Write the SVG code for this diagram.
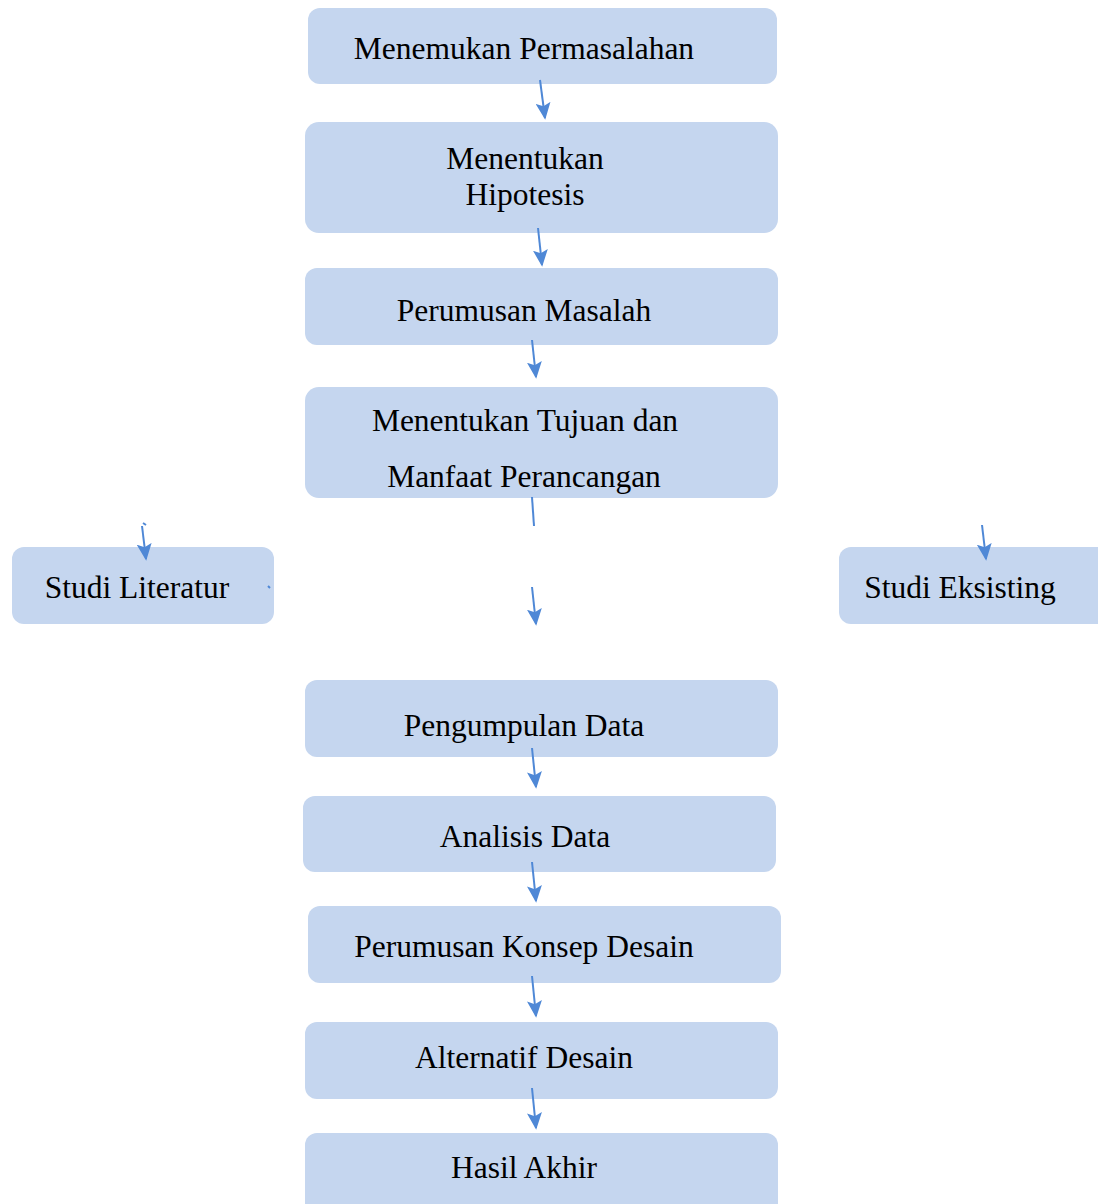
<svg xmlns="http://www.w3.org/2000/svg" width="1098" height="1204" viewBox="0 0 1098 1204">
<style>
.box{fill:#C5D6EF;}
.t{font-family:"Liberation Serif","Times New Roman",serif;font-size:31.5px;fill:#000;text-anchor:middle;}
.c{stroke:#4F88D6;stroke-width:2;fill:none;}
</style>
<defs>
<marker id="a" viewBox="0 0 10 10" refX="9" refY="5" markerWidth="17" markerHeight="15" markerUnits="userSpaceOnUse" orient="auto" preserveAspectRatio="none">
<path d="M0,0 L10,5 L0,10 L2,5 z" fill="#4F88D6"/>
</marker>
</defs>
<rect width="1098" height="1204" fill="#fff"/>
<g id="n1"><rect class="box" x="308" y="8" width="469" height="76" rx="12"/><text class="t" x="524" y="59">Menemukan Permasalahan</text></g>
<g id="n2"><rect class="box" x="305" y="122" width="473" height="111" rx="14"/><text class="t" x="525" y="169">Menentukan</text><text class="t" x="525" y="205">Hipotesis</text></g>
<g id="n3"><rect class="box" x="305" y="268" width="473" height="77" rx="12"/><text class="t" x="524" y="321">Perumusan Masalah</text></g>
<g id="n4"><rect class="box" x="305" y="387" width="473" height="111" rx="14"/><text class="t" x="525" y="431">Menentukan Tujuan dan</text><text class="t" x="524" y="487">Manfaat Perancangan</text></g>
<g id="n5"><rect class="box" x="12" y="547" width="262" height="77" rx="12"/><text class="t" x="137" y="598">Studi Literatur</text></g>
<g id="n6"><rect class="box" x="839" y="547" width="270" height="77" rx="12"/><text class="t" x="960" y="598">Studi Eksisting</text></g>
<g id="n7"><rect class="box" x="305" y="680" width="473" height="77" rx="12"/><text class="t" x="524" y="736">Pengumpulan Data</text></g>
<g id="n8"><rect class="box" x="303" y="796" width="473" height="76" rx="12"/><text class="t" x="525" y="847">Analisis Data</text></g>
<g id="n9"><rect class="box" x="308" y="906" width="473" height="77" rx="12"/><text class="t" x="524" y="957">Perumusan Konsep Desain</text></g>
<g id="n10"><rect class="box" x="305" y="1022" width="473" height="77" rx="12"/><text class="t" x="524" y="1068">Alternatif Desain</text></g>
<g id="n11"><rect class="box" x="305" y="1133" width="473" height="90" rx="12"/><text class="t" x="524" y="1178">Hasil Akhir</text></g>
<g id="connectors">
<line class="c" x1="540" y1="80" x2="545" y2="118" marker-end="url(#a)"/>
<line class="c" x1="538" y1="228" x2="542" y2="265" marker-end="url(#a)"/>
<line class="c" x1="532" y1="340" x2="536" y2="377" marker-end="url(#a)"/>
<line class="c" x1="532" y1="497" x2="534" y2="526"/>
<line class="c" x1="532" y1="587" x2="536" y2="624" marker-end="url(#a)"/>
<line class="c" x1="142" y1="526" x2="146" y2="559" marker-end="url(#a)"/>
<line class="c" x1="143" y1="523" x2="146" y2="525" stroke-width="1.5"/>
<line class="c" x1="982" y1="525" x2="986" y2="559" marker-end="url(#a)"/>
<line class="c" x1="532" y1="748" x2="536" y2="787" marker-end="url(#a)"/>
<line class="c" x1="532" y1="862" x2="536" y2="901" marker-end="url(#a)"/>
<line class="c" x1="532" y1="976" x2="536" y2="1016" marker-end="url(#a)"/>
<line class="c" x1="532" y1="1088" x2="536" y2="1128" marker-end="url(#a)"/>
<line class="c" x1="268" y1="586" x2="270" y2="588" stroke-width="1.5"/>
</g>
</svg>
